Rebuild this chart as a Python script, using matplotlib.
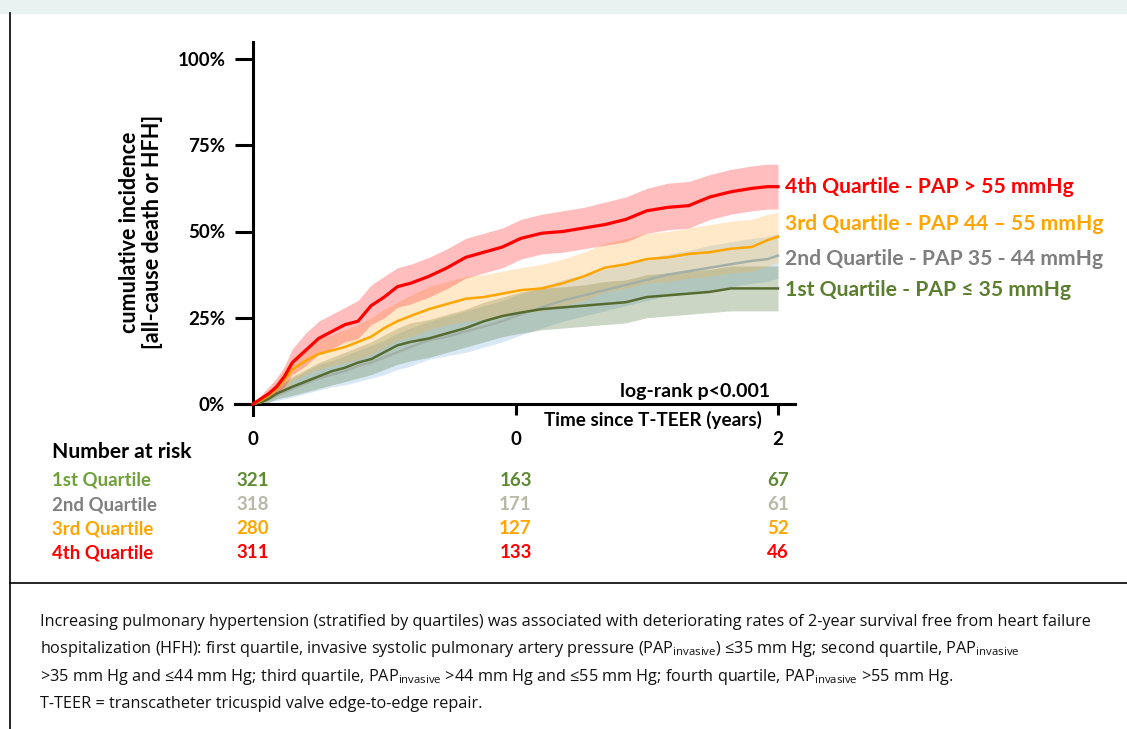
import matplotlib
matplotlib.use("Agg")
import matplotlib.pyplot as plt
from matplotlib.lines import Line2D
from matplotlib.patches import Rectangle

plt.rcParams['font.family'] = ['Lato', 'DejaVu Sans']
plt.rcParams['mathtext.fontset'] = 'custom'
plt.rcParams['mathtext.rm'] = 'Open Sans'
plt.rcParams['mathtext.it'] = 'Open Sans'

# ---- data (cumulative incidence, %) ----
times = [0, 0.03, 0.06, 0.09, 0.12, 0.15, 0.2, 0.25, 0.3, 0.35, 0.4, 0.45, 0.5, 0.55, 0.6,
         0.67, 0.74, 0.81, 0.88, 0.95, 1.02, 1.1, 1.18, 1.26, 1.34, 1.42, 1.5, 1.58, 1.66,
         1.74, 1.82, 1.9, 1.96, 2.0]

q4 = [0, 1.5, 3, 5, 8, 12, 15.5, 19, 21, 23, 24, 28.5, 31, 34, 35, 37, 39.5, 42.5, 44, 45.5,
      48, 49.5, 50, 51, 52, 53.5, 56, 57, 57.5, 60, 61.5, 62.5, 63, 63]
q4_hi = [0, 2.5, 5, 7.5, 11, 16, 20.5, 24, 26, 28, 30, 34.5, 37, 39.5, 40.5, 42.5, 45, 48, 49.5,
         51, 53.5, 55, 56, 57, 58.5, 60, 62.5, 64, 64.5, 66.5, 68, 69, 69.5, 69.5]
q4_lo = [0, 0.5, 1.5, 3, 5, 8.5, 11, 14.5, 16, 18, 19, 23, 25, 28, 29, 31, 33.5, 36.5, 38,
         39.5, 42, 43.5, 44, 45, 46, 47, 49.5, 50.5, 51, 53.5, 55, 56, 56.5, 56.5]

q3 = [0, 1, 2.5, 4.5, 7, 10, 12.5, 14.5, 15.5, 16.5, 18, 19.5, 22, 24, 25.5, 27.5, 29, 30.5,
      31, 32, 33, 33.5, 35, 37, 39.5, 40.5, 42, 42.5, 43.5, 44, 45, 45.5, 47.5, 48.5]
q3_hi = [0, 2, 4, 6.5, 10, 13.5, 16.5, 19, 20, 21.5, 23, 25, 27.5, 29.5, 31.5, 34, 35.5, 37,
         37.5, 38.5, 39.5, 40.5, 42, 44, 46.5, 48, 49.5, 50, 51, 52, 53, 53.5, 55, 55.5]
q3_lo = [0, 0.3, 1, 2.5, 4, 6.5, 8.5, 10, 11, 12, 13, 14.5, 16.5, 18.5, 19.5, 21.5, 23, 24,
         24.5, 25.5, 26.5, 27, 28.5, 30, 32.5, 33.5, 35, 35.5, 36.5, 37, 38, 38.5, 40, 41]

q2 = [0, 0.5, 1.5, 2.5, 3.5, 4.5, 6, 7.5, 8.5, 9.5, 11, 12, 13.5, 15, 16.5, 18.5, 19.5, 21,
      22.5, 24, 26, 28, 30, 31.5, 33, 34.5, 36, 37.5, 38.5, 39.5, 40.5, 41.5, 42, 43]
q2_hi = [0, 1.5, 3, 4.5, 6, 7.5, 9.5, 11.5, 12.5, 14, 15.5, 17, 18.5, 20.5, 22, 24, 25.5, 27,
         28.5, 30, 32, 34, 36, 37.5, 39, 40.5, 42, 43.5, 44.5, 46, 47, 48, 48.5, 49.5]
q2_lo = [0, 0, 0.5, 1, 1.5, 2, 3, 4, 5, 5.5, 6.5, 7.5, 8.5, 10, 11, 13, 14, 15, 16.5, 18,
         20, 22, 24, 25.5, 27, 28.5, 30, 31.5, 32.5, 33, 34, 35, 35.5, 36.5]

q1 = [0, 0.5, 1.5, 3, 4, 5, 6.5, 8, 9.5, 10.5, 12, 13, 15, 17, 18, 19, 20.5, 22, 24, 25.5,
      26.5, 27.5, 28, 28.5, 29, 29.5, 31, 31.5, 32, 32.5, 33.5, 33.5, 33.5, 33.5]
q1_hi = [0, 1.5, 3, 5, 6.5, 8, 10, 12, 13.5, 15, 16.5, 18, 20, 22, 23.5, 24.5, 26, 27.5, 29.5,
         31, 32.5, 33.5, 34, 34.5, 35.5, 36, 37.5, 38, 38.5, 39, 40, 40, 40, 40]
q1_lo = [0, 0, 0.5, 1.5, 2, 2.5, 3.5, 4.5, 5.5, 6.5, 7.5, 8.5, 10, 11.5, 12.5, 13.5, 15,
         16.5, 18, 19.5, 20.5, 21.5, 22, 22.5, 23, 23.5, 25, 25.5, 26, 26.5, 27, 27, 27, 27]

legend_labels = ["4th Quartile - PAP > 55 mmHg", "3rd Quartile - PAP 44 \u2013 55 mmHg",
                 "2nd Quartile - PAP 35 - 44 mmHg", "1st Quartile - PAP \u2264 35 mmHg"]
risk_names = ["1st Quartile", "2nd Quartile", "3rd Quartile", "4th Quartile"]
risk_times = [0, 1, 2]
risk_header = ["0", "0", "2"]
at_risk = [[321, 163, 67], [318, 171, 61], [280, 127, 52], [311, 133, 46]]
yticks = [0, 25, 50, 75, 100]

W, H = 1127, 729
fig = plt.figure(figsize=(W / 100, H / 100), dpi=100)


def fx(x):
    return x / W


def fy(y):
    return 1 - y / H


# frame, banner and separator
fig.patches.append(Rectangle((0, fy(13)), 1, 13 / H, transform=fig.transFigure,
                             color='#e9f1f1', zorder=0))
fig.add_artist(Line2D([fx(10), fx(10)], [0, fy(13)], color='black', lw=1.2))
fig.add_artist(Line2D([fx(10), 1], [fy(583), fy(583)], color='black', lw=1.2))

# axes: data 0..2 years maps to px 253..778, 0..100% maps to px 404..59
x0, x1 = 253, 778
y0, y1 = 404, 59
sx = (x1 - x0) / 2
sy = (y0 - y1) / 100
ax = fig.add_axes([fx(235), fy(415), (795 - 235) / W, (415 - 42) / H])
ax.set_xlim(-18 / sx, 2 + 17 / sx)
ax.set_ylim(-11 / sy, 100 + 17 / sy)
ax.patch.set_alpha(0)

series = [
    (q2, q2_lo, q2_hi, '#a3b0a8', (0.45, 0.68, 0.85, 0.28), 1.8),
    (q1, q1_lo, q1_hi, '#556b2f', (0.35, 0.48, 0.25, 0.30), 1.8),
    (q3, q3_lo, q3_hi, '#ffa500', (1.0, 0.70, 0.25, 0.28), 1.8),
    (q4, q4_lo, q4_hi, '#ff0000', (1.0, 0.15, 0.15, 0.30), 2.3),
]
for vals, lo, hi, col, band, lw in series:
    ax.fill_between(times, lo, hi, color=band, lw=0, zorder=1)
for vals, lo, hi, col, band, lw in series:
    ax.plot(times, vals, color=col, lw=lw, zorder=3)

for s in ['top', 'right']:
    ax.spines[s].set_visible(False)
ax.spines['left'].set_position(('data', 0))
ax.spines['bottom'].set_position(('data', 0))
for s in ['left', 'bottom']:
    ax.spines[s].set_linewidth(2.2)
ax.set_yticks(yticks)
ax.set_yticklabels([f"{v}%" for v in yticks], fontsize=13.5, fontweight='bold')
ax.tick_params(axis='y', direction='out', length=13, width=2.2, pad=7)
ax.set_xticks(risk_times[1:])
ax.set_xticklabels([])
ax.tick_params(axis='x', direction='out', length=8, width=2.2)

ax.text(2 - 8 / sx, 13 / sy, "log-rank p<0.001", ha='right', va='center',
        fontsize=14, fontweight='bold')
ax.text(2 - 16 / sx, -16 / sy, "Time since T-TEER (years)", ha='right', va='center',
        fontsize=13.6, fontweight='bold')

fig.text(fx(141), fy(232), "cumulative incidence\n[all-cause death or HFH]", fontsize=15.5,
         fontweight='bold', linespacing=1.1, rotation=90, ha='center', va='center',
         multialignment='center')

label_colors = ['#ff0000', '#ffa500', '#7f7f7f', '#5b7f2f']
label_y = [187, 224, 259, 290]
for txt, c, yy in zip(legend_labels, label_colors, label_y):
    fig.text(fx(785), fy(yy), txt, color=c, fontsize=15.2, fontweight='bold', va='center')

# number at risk table
name_colors = ['#70a03a', '#7f7f7f', '#ffa500', '#ff0000']
num_colors = ['#5f8a33', '#b9b9a8', '#ffa500', '#ff0000']
row_y = [480, 505, 529, 553]
fig.text(fx(52), fy(452), "Number at risk", fontsize=15.2, fontweight='bold', va='center')
for t, h in zip(risk_times, risk_header):
    fig.text(fx(x0 + t * sx), fy(440), h, fontsize=13.5, fontweight='bold',
             ha='center', va='center')
for name, nc, vc, counts, yy in zip(risk_names, name_colors, num_colors, at_risk, row_y):
    fig.text(fx(52), fy(yy), name, fontsize=13.4, fontweight='bold', color=nc, va='center')
    for t, n in zip(risk_times, counts):
        fig.text(fx(x0 + t * sx), fy(yy), str(n), fontsize=13.5, fontweight='bold',
                 color=vc, ha='center', va='center')

# caption
sub = r"PAP$_{\mathrm{invasive}}$"
caption = [
    "Increasing pulmonary hypertension (stratified by quartiles) was associated with deteriorating rates of 2-year survival free from heart failure",
    "hospitalization (HFH): first quartile, invasive systolic pulmonary artery pressure (" + sub + ") \u226435 mm Hg; second quartile, " + sub,
    ">35 mm Hg and \u226444 mm Hg; third quartile, " + sub + " >44 mm Hg and \u226455 mm Hg; fourth quartile, " + sub + " >55 mm Hg.",
    "T-TEER = transcatheter tricuspid valve edge-to-edge repair.",
]
for i, line in enumerate(caption):
    fig.text(fx(40), fy(622 + 27.3 * i), line, fontsize=11.7, family=['Open Sans', 'DejaVu Sans'],
             va='center', color='#111111')

fig.savefig("out.png", dpi=100)
